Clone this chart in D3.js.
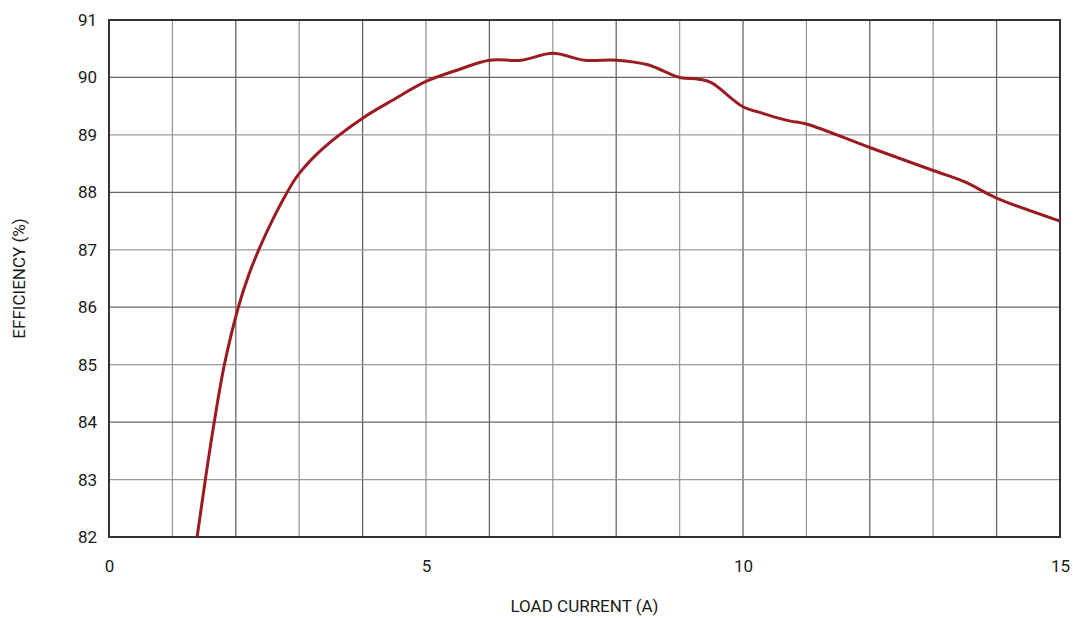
<!DOCTYPE html>
<html>
<head>
<meta charset="utf-8">
<script src="https://cdn.jsdelivr.net/npm/d3@7"></script>
<style>
  body { margin: 0; background: #fff; }
  svg text { font-family: "Roboto", "Liberation Sans", sans-serif; fill: #1a1a1a; }
</style>
</head>
<body>
<svg id="chart" width="1073" height="618"></svg>
<script>
// load current (A) and efficiency (%)
const current = [1.39, 1.52, 1.66, 1.82, 2.04, 2.2, 2.37, 2.58, 2.8, 2.98, 3.35, 4.0, 4.5, 5.0, 5.5, 6.0, 6.5, 7.0, 7.5, 8.0, 8.5, 9.0, 9.3, 9.5, 10.0, 10.3, 10.5, 10.75, 11.0, 12.0, 13.0, 13.5, 14.0, 15.0];
const efficiency = [82.0, 83.0, 84.0, 85.0, 86.0, 86.55, 87.02, 87.52, 87.98, 88.3, 88.74, 89.29, 89.62, 89.93, 90.13, 90.30, 90.30, 90.42, 90.30, 90.30, 90.22, 90.0, 89.97, 89.91, 89.49, 89.38, 89.31, 89.24, 89.19, 88.78, 88.38, 88.18, 87.90, 87.50];
const xTicks = [0, 5, 10, 15];
const yTicks = [82, 83, 84, 85, 86, 87, 88, 89, 90, 91];

const M = { left: 109, right: 1060, top: 20, bottom: 537 };
const svg = d3.select('#chart');

const x = d3.scaleLinear().domain([0, 15]).range([M.left, M.right]);
const y = d3.scaleLinear().domain([82, 91]).range([M.bottom, M.top]);

// grid
svg.append('g')
  .selectAll('line')
  .data(d3.range(1, 15))
  .enter()
  .append('line')
  .attr('x1', d => x(d)).attr('x2', d => x(d))
  .attr('y1', M.top).attr('y2', M.bottom)
  .attr('stroke', d => d % 2 === 0 ? '#666' : '#999')
  .attr('stroke-width', 1.3);

svg.append('g')
  .selectAll('line')
  .data(d3.range(83, 91))
  .enter()
  .append('line')
  .attr('x1', M.left).attr('x2', M.right)
  .attr('y1', d => y(d)).attr('y2', d => y(d))
  .attr('stroke', d => d % 2 === 0 ? '#666' : '#999')
  .attr('stroke-width', 1.3);

// frame
svg.append('rect')
  .attr('x', M.left).attr('y', M.top)
  .attr('width', M.right - M.left).attr('height', M.bottom - M.top)
  .attr('fill', 'none').attr('stroke', '#333').attr('stroke-width', 2);

// axes (labels only)
const xAxis = svg.append('g')
  .attr('transform', `translate(0,${M.bottom})`)
  .call(d3.axisBottom(x).tickValues(xTicks).tickSize(0).tickPadding(23));
xAxis.select('.domain').remove();
xAxis.selectAll('text').style('font-size', '17px').style('fill', '#1a1a1a');

const yAxis = svg.append('g')
  .attr('transform', `translate(${M.left},0)`)
  .call(d3.axisLeft(y).tickValues(yTicks).tickSize(0).tickPadding(12));
yAxis.select('.domain').remove();
yAxis.selectAll('text').style('font-size', '17px').style('fill', '#1a1a1a');

// curve
const pts = current.map((c, i) => [c, efficiency[i]]);
svg.append('path')
  .datum(pts)
  .attr('fill', 'none')
  .attr('stroke', '#9b1b22')
  .attr('stroke-width', 3)
  .attr('d', d3.line().x(d => x(d[0])).y(d => y(d[1])).curve(d3.curveCatmullRom.alpha(0.5)));

// titles
svg.append('text')
  .attr('x', (M.left + M.right) / 2).attr('y', 612)
  .attr('text-anchor', 'middle')
  .style('font-size', '17px')
  .text('LOAD CURRENT (A)');

svg.append('text')
  .attr('transform', `translate(25,${(M.top + M.bottom) / 2}) rotate(-90)`)
  .attr('text-anchor', 'middle')
  .style('font-size', '17px')
  .text('EFFICIENCY (%)');
</script>
</body>
</html>
